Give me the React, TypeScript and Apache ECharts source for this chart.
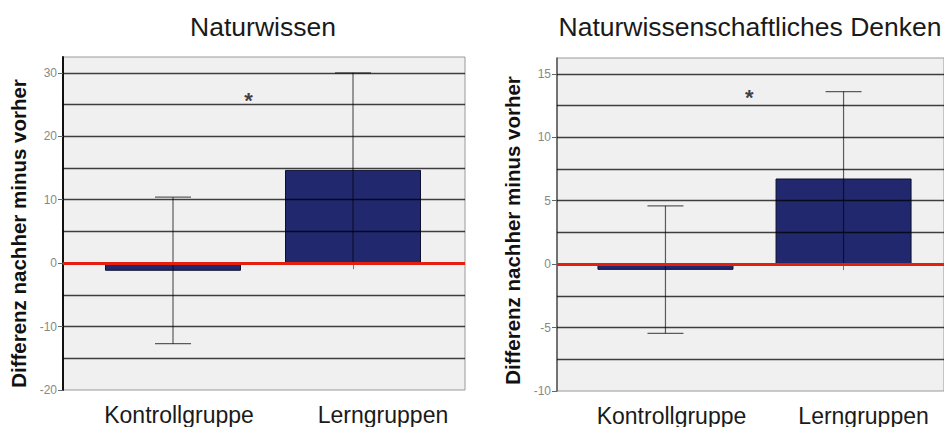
import React, { useEffect, useRef } from 'react';
import * as echarts from 'echarts';

const categories = ['Kontrollgruppe', 'Lerngruppen'];
const catPos = [1, 2];
const titles = ['Naturwissen', 'Naturwissenschaftliches Denken'];
const yAxisName = 'Differenz nachher minus vorher';

// Chart 1: Naturwissen
const wissenMean = [-1.2, 14.7];
const wissenLow = [-12.7, 0.0];
const wissenHigh = [10.4, 30.0];
const wissenStar = [1.42, 26.6];
const wissenTicks = [-20, -10, 0, 10, 20, 30];
const wissenGrid = [-15, -10, -5, 5, 10, 15, 20, 25, 30];

// Chart 2: Naturwissenschaftliches Denken
const denkenMean = [-0.45, 6.75];
const denkenLow = [-5.45, -0.1];
const denkenHigh = [4.6, 13.6];
const denkenStar = [1.47, 13.6];
const denkenTicks = [-10, -5, 0, 5, 10, 15];
const denkenGrid = [-7.5, -5, -2.5, 2.5, 5, 7.5, 10, 12.5, 15];

const FONT = '"Liberation Sans", Arial, sans-serif';
const GRID_COLOR = 'rgba(0,0,0,0.74)';

function buildPanel(i: number, cfg: any) {
  const xAxis = {
    type: 'value',
    gridIndex: i,
    min: cfg.xMin,
    max: cfg.xMax,
    axisLine: { show: false },
    splitLine: { show: false },
    axisTick: { show: true, customValues: catPos, length: 6, lineStyle: { color: '#777', width: 1 } },
    axisLabel: {
      customValues: catPos,
      margin: 13,
      formatter: (v: number) => {
        const idx = Math.round(v) - 1;
        return idx === 0 ? `{k|${categories[0]}}` : `{l|${categories[1]}}`;
      },
      rich: {
        k: { fontSize: 23, color: '#1a1a1a', fontFamily: FONT, padding: [0, 0, 0, cfg.kPad] },
        l: { fontSize: 23, color: '#1a1a1a', fontFamily: FONT, padding: [0, 0, 0, cfg.lPad] },
      },
    },
  };
  const yAxis = {
    type: 'value',
    gridIndex: i,
    min: cfg.yMin,
    max: cfg.yMax,
    interval: cfg.interval,
    name: yAxisName,
    nameLocation: 'middle',
    nameGap: 34,
    nameTextStyle: {
      fontSize: 20.5, fontWeight: 'bold', color: '#111', fontFamily: FONT,
      padding: [0, cfg.namePad, 0, 0],
    },
    axisLine: { show: true, onZero: false, lineStyle: { color: cfg.axisColor, width: cfg.axisWidth } },
    axisTick: { show: true, customValues: cfg.ticks, length: 5, lineStyle: { color: '#666', width: 1 } },
    axisLabel: { customValues: cfg.ticks, fontSize: 12, color: '#888', margin: 6, fontFamily: FONT },
    splitLine: { show: false },
  };
  const lineData = [
    ...cfg.grid.map((g: number) => ({ yAxis: g, lineStyle: { color: GRID_COLOR, width: 1.3, type: 'solid' } })),
    { yAxis: 0, lineStyle: { color: '#e3200f', width: 3, type: 'solid' } },
  ];
  const series = [
    {
      type: 'bar',
      xAxisIndex: i,
      yAxisIndex: i,
      data: catPos.map((p, j) => [p, cfg.mean[j]]),
      barWidth: 136,
      itemStyle: { color: '#21286e', borderColor: '#0d0f2e', borderWidth: 1 },
      z: 2,
    },
    {
      type: 'custom',
      xAxisIndex: i,
      yAxisIndex: i,
      z: 4,
      encode: { x: 0, y: [1, 2] },
      data: catPos.map((p, j) => [p, cfg.low[j], cfg.high[j]]),
      renderItem: (params: any, api: any) => {
        const x = api.value(0);
        const lo = api.coord([x, api.value(1)]);
        const hi = api.coord([x, api.value(2)]);
        const hw = 18;
        const style = { stroke: 'rgba(0,0,0,0.62)', lineWidth: 1.2 };
        return {
          type: 'group',
          children: [
            { type: 'line', shape: { x1: hi[0], y1: hi[1], x2: lo[0], y2: lo[1] }, style },
            { type: 'line', shape: { x1: hi[0] - hw, y1: hi[1], x2: hi[0] + hw, y2: hi[1] }, style },
            { type: 'line', shape: { x1: lo[0] - hw, y1: lo[1], x2: lo[0] + hw, y2: lo[1] }, style },
          ],
        };
      },
      markLine: {
        silent: true,
        symbol: 'none',
        label: { show: false },
        z: 6,
        data: lineData,
      },
    },
    {
      type: 'scatter',
      xAxisIndex: i,
      yAxisIndex: i,
      z: 7,
      symbolSize: 0,
      data: [cfg.star],
      label: {
        show: true,
        position: 'inside',
        formatter: '*',
        fontSize: 22,
        fontWeight: 'bold',
        color: '#111',
        fontFamily: FONT,
        offset: [0, 6],
      },
    },
  ];
  return { xAxis, yAxis, series };
}

export default function App() {
  const ref = useRef<HTMLDivElement>(null);
  useEffect(() => {
    if (!ref.current) return;
    const chart = echarts.init(ref.current, null, { renderer: 'svg' });
    const p1 = buildPanel(0, {
      xMin: 0.3889, xMax: 2.6222, yMin: -20, yMax: 32.5, interval: 10,
      ticks: wissenTicks, grid: wissenGrid, mean: wissenMean, low: wissenLow, high: wissenHigh, star: wissenStar,
      kPad: 12, lPad: 60, axisColor: '#111', axisWidth: 2, namePad: 20,
    });
    const p2 = buildPanel(1, {
      xMin: 0.391, xMax: 2.564, yMin: -10, yMax: 16.25, interval: 5,
      ticks: denkenTicks, grid: denkenGrid, mean: denkenMean, low: denkenLow, high: denkenHigh, star: denkenStar,
      kPad: 12, lPad: 40, axisColor: '#555', axisWidth: 1.5, namePad: 12,
    });
    chart.setOption({
      animation: false,
      backgroundColor: '#ffffff',
      title: [
        { text: titles[0], left: 258, top: 8, textAlign: 'center',
          textStyle: { fontSize: 26.5, fontWeight: 'normal', color: '#1a1a1a', fontFamily: FONT } },
        { text: titles[1], left: 745, top: 8, textAlign: 'center',
          textStyle: { fontSize: 26.5, fontWeight: 'normal', color: '#1a1a1a', fontFamily: FONT } },
      ],
      grid: [
        { left: 63, top: 57, width: 402, height: 333, show: true, backgroundColor: '#f0f0f0', borderColor: '#9a9a9a', borderWidth: 1 },
        { left: 557, top: 58, width: 389, height: 333, show: true, backgroundColor: '#f0f0f0', borderColor: '#9a9a9a', borderWidth: 1 },
      ],
      xAxis: [p1.xAxis, p2.xAxis],
      yAxis: [p1.yAxis, p2.yAxis],
      series: [...p1.series, ...p2.series],
    });
    return () => chart.dispose();
  }, []);
  return <div ref={ref} style={{ position: 'absolute', left: 0, top: 0, width: 944, height: 427 }} />;
}
